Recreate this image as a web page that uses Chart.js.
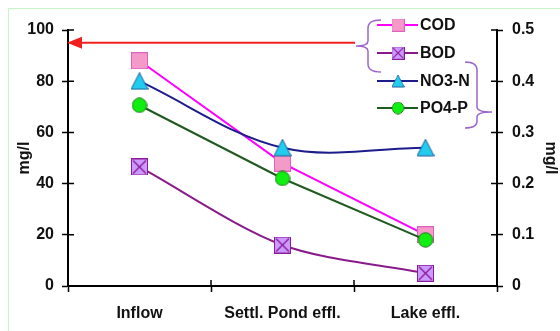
<!DOCTYPE html>
<html>
<head>
<meta charset="utf-8">
<script src="https://cdn.jsdelivr.net/npm/chart.js@4/dist/chart.umd.min.js"></script>
<style>
  html, body { margin: 0; padding: 0; background: #fff; }
  #wrap { width: 560px; height: 331px; }
</style>
</head>
<body>
<div id="wrap"><canvas id="myChart" width="560" height="331"></canvas></div>
<script>
(function () {
    "use strict";

    // data
    var stations = ['Inflow', 'Settl. Pond effl.', 'Lake effl.'];
    var cod = [88, 48, 20];          // mg/l, left axis
    var bod = [46.5, 16, 5];         // mg/l, left axis
    var no3n = [0.40, 0.27, 0.27];   // mg/l, right axis
    var po4p = [0.353, 0.21, 0.09];  // mg/l, right axis
    var leftTicks = [0, 20, 40, 60, 80, 100];
    var rightTicks = [0, 0.1, 0.2, 0.3, 0.4, 0.5];
    var arrowValue = 95;             // red arrow level on left axis

    var FONT = "'Liberation Sans', Arial, sans-serif";

    // marker images (Excel-like)
    function makeMarker(shape, fill, stroke, size) {
        var c = document.createElement('canvas');
        c.width = size; c.height = size;
        var g = c.getContext('2d');
        g.fillStyle = fill;
        g.strokeStyle = stroke;
        g.lineWidth = 1;
        var s = size;
        if (shape === 'square' || shape === 'squareX') {
            g.fillRect(0.5, 0.5, s - 1, s - 1);
            g.strokeRect(0.5, 0.5, s - 1, s - 1);
            if (shape === 'squareX') {
                g.lineWidth = 1.4;
                g.beginPath();
                g.moveTo(2, 2); g.lineTo(s - 2, s - 2);
                g.moveTo(s - 2, 2); g.lineTo(2, s - 2);
                g.stroke();
            }
        } else if (shape === 'triangle') {
            g.beginPath();
            g.moveTo(s / 2, 0.5);
            g.lineTo(s - 0.5, s - 1);
            g.lineTo(0.5, s - 1);
            g.closePath();
            g.fill(); g.stroke();
        } else {
            g.beginPath();
            g.arc(s / 2, s / 2, s / 2 - 0.8, 0, Math.PI * 2);
            g.fill(); g.stroke();
        }
        return c;
    }

    // order: lower number is drawn on top
    var series = [
        { label: 'COD', data: cod, axis: 'y', line: '#ff00ff', marker: makeMarker('square', '#f49ac8', '#e060c0', 17), tension: 0, order: 4 },
        { label: 'BOD', data: bod, axis: 'y', line: '#8a1a8a', marker: makeMarker('squareX', '#cc99ff', '#8a1a9a', 17), tension: 0.3, order: 3 },
        { label: 'NO3-N', data: no3n, axis: 'y1', line: '#1c1c8c', marker: makeMarker('triangle', '#22ccee', '#2060a0', 18), tension: 0.35, order: 2 },
        { label: 'PO4-P', data: po4p, axis: 'y1', line: '#1f5a1f', marker: makeMarker('circle', '#11ee11', '#1f7a1f', 16), tension: 0, order: 1 }
    ];

    var extras = {
        id: 'extras',
        beforeDraw: function (chart) {
            var ctx = chart.ctx;
            ctx.save();
            ctx.fillStyle = '#ffffff';
            ctx.fillRect(0, 0, chart.width, chart.height);
            ctx.strokeStyle = '#c6f5c6';
            ctx.lineWidth = 1;
            ctx.strokeRect(8.5, 8.5, 700, 400);
            ctx.restore();
        },
        afterDraw: function (chart) {
            var ctx = chart.ctx;
            var area = chart.chartArea;
            var y = chart.scales.y, y1 = chart.scales.y1, x = chart.scales.x;
            ctx.save();

            // inner halves of the crossing ticks
            ctx.strokeStyle = '#000';
            ctx.lineWidth = 1.5;
            ctx.beginPath();
            leftTicks.forEach(function (v) {
                var p = y.getPixelForValue(v);
                ctx.moveTo(area.left, p); ctx.lineTo(area.left + 6, p);
            });
            rightTicks.forEach(function (v) {
                var p = y1.getPixelForValue(v);
                ctx.moveTo(area.right, p); ctx.lineTo(area.right - 6, p);
            });
            for (var i = 1; i < stations.length; i++) {
                var px = (x.getPixelForValue(i - 1) + x.getPixelForValue(i)) / 2;
                ctx.moveTo(px, area.bottom); ctx.lineTo(px, area.bottom - 6);
            }
            ctx.stroke();

            // red arrow
            var ay = y.getPixelForValue(arrowValue);
            ctx.strokeStyle = '#f02020';
            ctx.fillStyle = '#f02020';
            ctx.lineWidth = 2;
            ctx.beginPath();
            ctx.moveTo(355, ay); ctx.lineTo(area.left + 12, ay);
            ctx.stroke();
            ctx.beginPath();
            ctx.moveTo(area.left - 1, ay);
            ctx.lineTo(area.left + 14, ay - 6);
            ctx.lineTo(area.left + 14, ay + 6);
            ctx.closePath();
            ctx.fill();

            // legend
            var rows = [25, 53, 81, 108];
            ctx.font = 'bold 16px ' + FONT;
            ctx.textBaseline = 'middle';
            ctx.textAlign = 'left';
            series.forEach(function (s, k) {
                var ry = rows[k];
                ctx.strokeStyle = s.line;
                ctx.lineWidth = 2;
                ctx.beginPath();
                ctx.moveTo(377, ry); ctx.lineTo(418, ry);
                ctx.stroke();
                ctx.drawImage(s.marker, 398 - 6.5, ry - 6.5, 13, 13);
                ctx.fillStyle = '#111';
                ctx.fillText(s.label, 420, ry + 1);
            });

            // brackets
            ctx.strokeStyle = '#9a66cc';
            ctx.lineWidth = 1.5;
            ctx.beginPath();
            ctx.moveTo(381, 20);
            ctx.quadraticCurveTo(368, 20, 368, 28);
            ctx.lineTo(368, 41);
            ctx.quadraticCurveTo(368, 46, 356, 46);
            ctx.quadraticCurveTo(368, 46, 368, 51);
            ctx.lineTo(368, 64);
            ctx.quadraticCurveTo(368, 72, 381, 72);
            ctx.stroke();

            ctx.beginPath();
            ctx.moveTo(465, 62);
            ctx.quadraticCurveTo(477, 62, 477, 70);
            ctx.lineTo(477, 107);
            ctx.quadraticCurveTo(477, 112, 492, 112);
            ctx.quadraticCurveTo(477, 112, 477, 117);
            ctx.lineTo(477, 121);
            ctx.quadraticCurveTo(477, 128, 465, 128);
            ctx.stroke();

            ctx.restore();
        }
    };

    Chart.defaults.font.family = FONT;
    Chart.defaults.font.size = 16;
    Chart.defaults.font.weight = 'bold';
    Chart.defaults.color = '#111';

    var axisGrid = {
        display: true,
        drawOnChartArea: false,
        drawTicks: true,
        tickLength: 6,
        tickWidth: 1.5,
        color: '#000'
    };
    var axisBorder = { display: true, color: '#000', width: 2 };

    var ctx = document.getElementById('myChart').getContext('2d');
    var chart = new Chart(ctx, {
        type: 'line',
        data: {
            labels: stations,
            datasets: series.map(function (s) {
                return {
                    label: s.label,
                    data: s.data,
                    yAxisID: s.axis,
                    order: s.order,
                    borderColor: s.line,
                    borderWidth: 2,
                    backgroundColor: s.line,
                    pointStyle: s.marker,
                    pointRadius: 9,
                    pointHoverRadius: 9,
                    tension: s.tension,
                    fill: false
                };
            })
        },
        options: {
            responsive: false,
            animation: false,
            layout: { padding: { top: 30, left: 0, right: 0, bottom: 0 } },
            scales: {
                x: {
                    offset: true,
                    grid: Object.assign({}, axisGrid, { offset: true }),
                    border: axisBorder,
                    ticks: { padding: 12 },
                    afterFit: function (s) { s.height = 45; }
                },
                y: {
                    position: 'left',
                    min: 0,
                    max: 100,
                    afterBuildTicks: function (s) {
                        s.ticks = leftTicks.map(function (v) { return { value: v }; });
                    },
                    grid: axisGrid,
                    border: axisBorder,
                    ticks: { padding: 8 },
                    title: { display: true, text: 'mg/l', padding: 15 },
                    afterFit: function (s) { s.width = 68; }
                },
                y1: {
                    position: 'right',
                    min: 0,
                    max: 0.5,
                    afterBuildTicks: function (s) {
                        s.ticks = rightTicks.map(function (v) { return { value: v }; });
                    },
                    grid: axisGrid,
                    border: axisBorder,
                    ticks: { padding: 9 },
                    title: { display: true, text: 'mg/l', padding: 0 },
                    afterFit: function (s) { s.width = 63; }
                }
            },
            plugins: {
                legend: { display: false },
                tooltip: { enabled: false }
            }
        },
        plugins: [extras]
    });
})();
</script>
</body>
</html>
